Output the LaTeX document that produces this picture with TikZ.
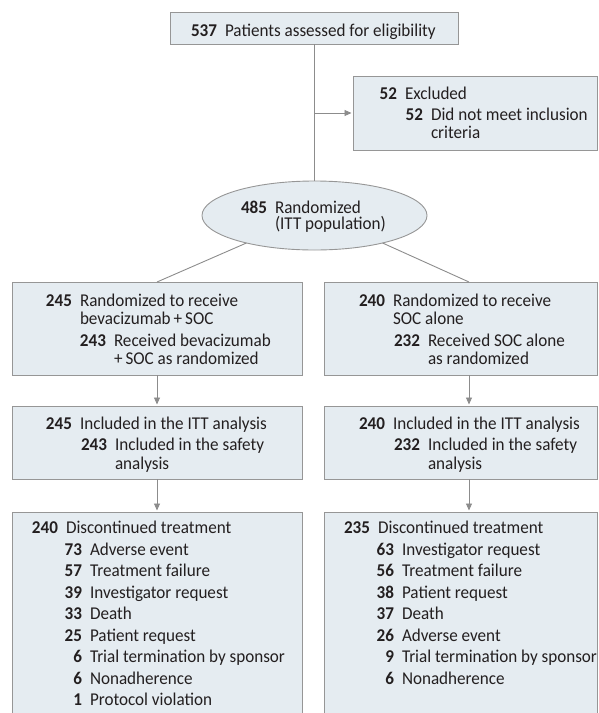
\documentclass[tikz,border=0pt]{standalone}
\usepackage{fontspec}
\setmainfont{Carlito}[FakeStretch=0.95]
\usetikzlibrary{shapes.geometric,arrows.meta,calc}
\definecolor{boxfill}{RGB}{229,236,241}
\definecolor{boxline}{RGB}{150,150,150}
\definecolor{conn}{RGB}{140,140,140}
\definecolor{ink}{RGB}{35,31,32}
\newcounter{entryno}
\newcommand\numline[4]{\stepcounter{entryno}%
  \node[txt,anchor=base east] (num\theentryno) at (#1,#2) {\textbf{#3}};%
  \node[txt,anchor=base west] (lab\theentryno) at (#1+8,#2) {#4};}
\newcommand\plainline[3]{\stepcounter{entryno}%
  \node[txt,anchor=base west] (lab\theentryno) at (#1,#2) {#3};}
\tikzset{
  txt/.style={inner sep=0pt,outer sep=0pt,text=ink,font=\fontsize{18}{21}\selectfont},
  boxnode/.style={draw=boxline,fill=boxfill,line width=0.9pt,inner sep=0pt,outer sep=0pt,rectangle},
  ellnode/.style={draw=boxline,fill=boxfill,line width=0.9pt,ellipse,inner sep=0pt,outer sep=0pt,minimum width=225pt,minimum height=69pt},
  conline/.style={draw=conn,line width=0.9pt},
  conarrow/.style={draw=conn,line width=0.9pt,-{Triangle[length=7pt,width=6pt]},shorten >=1.5pt},
}
\newcommand\boxat[5]{% name, x1,y1,x2,y2
  \node[boxnode,minimum width={(#4)-(#2)},minimum height={(#5)-(#3)}] (#1) at ({((#2)+(#4))/2},{((#3)+(#5))/2}) {};}
\begin{document}
\begin{tikzpicture}[x=1pt,y=-1pt]
\useasboundingbox (0,0) rectangle (598,713);
% boxes
\boxat{top}{170}{12}{458}{44}
\boxat{excl}{353}{76}{597}{150}
\node[ellnode] (rand) at (314.5,215.5) {};
\boxat{LA}{12}{282}{302}{375}
\boxat{RA}{324}{282}{597}{375}
\boxat{LB}{12}{406}{302}{479}
\boxat{RB}{324}{406}{597}{479}
\boxat{LC}{12}{512}{302}{716}
\boxat{RC}{324}{512}{597}{716}
% connectors
\coordinate (split) at (314,113);
\draw[conline] (top.south -| split) -- (rand.north -| split);
\draw[conarrow] (split) -- (split -| excl.west);
\draw[conline] (rand.202) -- (LA.north);
\draw[conline] (rand.338) -- ($(RA.north)+(8.5,0)$);
\draw[conarrow] (LA.south) -- (LB.north);
\draw[conarrow] ($(RA.south)+(8.5,0)$) -- ($(RB.north)+(8.5,0)$);
\draw[conarrow] (LB.south) -- (LC.north);
\draw[conarrow] ($(RB.south)+(8.5,0)$) -- ($(RC.north)+(8.5,0)$);
% texts
\numline{217}{36}{537}{Patients assessed for eligibility}
\numline{397}{99}{52}{Excluded}
\numline{423}{120}{52}{Did not meet inclusion}
\plainline{431}{138.5}{criteria}
\numline{267}{213}{485}{Randomized}
\plainline{275}{229}{(ITT population)}
% left A
\numline{72}{306}{245}{Randomized to receive}
\plainline{80}{324}{bevacizumab\,+\,SOC}
\numline{106}{346}{243}{Received bevacizumab}
\plainline{114}{364}{+\,SOC as randomized}
% right A
\numline{385}{306}{240}{Randomized to receive}
\plainline{393}{324}{SOC alone}
\numline{420}{346}{232}{Received SOC alone}
\plainline{428}{364}{as randomized}
% left B
\numline{72}{429}{245}{Included in the ITT analysis}
\numline{107}{450}{243}{Included in the safety}
\plainline{115}{469}{analysis}
% right B
\numline{385}{429}{240}{Included in the ITT analysis}
\numline{420}{450}{232}{Included in the safety}
\plainline{428}{469}{analysis}
% left C
\numline{58}{533.5}{240}{Discontinued treatment}
\numline{82}{555}{73}{Adverse event}
\numline{82}{576.5}{57}{Treatment failure}
\numline{82}{598}{39}{Investigator request}
\numline{82}{619.5}{33}{Death}
\numline{82}{641}{25}{Patient request}
\numline{82}{662.5}{6}{Trial termination by sponsor}
\numline{82}{684}{6}{Nonadherence}
\numline{82}{705}{1}{Protocol violation}
% right C
\numline{370}{533.5}{235}{Discontinued treatment}
\numline{394}{555}{63}{Investigator request}
\numline{394}{576.5}{56}{Treatment failure}
\numline{394}{598}{38}{Patient request}
\numline{394}{619.5}{37}{Death}
\numline{394}{641}{26}{Adverse event}
\numline{394}{662.5}{9}{Trial termination by sponsor}
\numline{394}{684}{6}{Nonadherence}
\end{tikzpicture}
\end{document}
